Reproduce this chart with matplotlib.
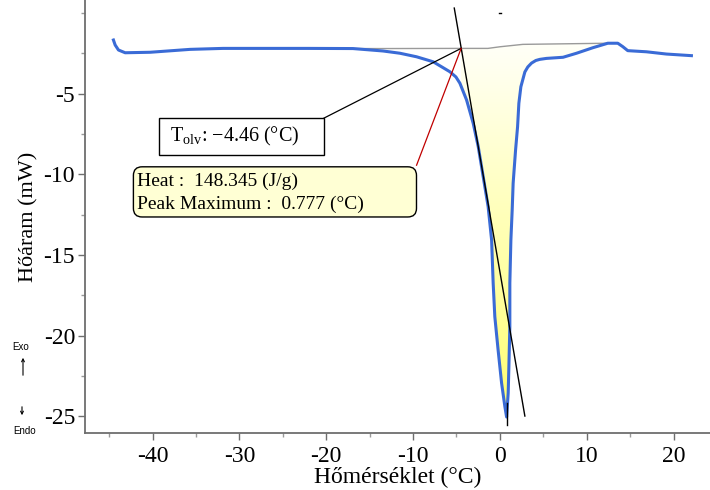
import matplotlib
matplotlib.use("Agg")
import matplotlib.pyplot as plt
import numpy as np
from matplotlib.colors import LinearSegmentedColormap
from matplotlib.patches import Rectangle, FancyBboxPatch, Polygon
from matplotlib.ticker import MultipleLocator

plt.rcParams['font.family'] = ['Liberation Serif', 'DejaVu Serif']
plt.rcParams['mathtext.fontset'] = 'custom'
plt.rcParams['mathtext.rm'] = 'Liberation Serif'
plt.rcParams['axes.unicode_minus'] = False

# DSC curve (temperature in C, heat flow in mW)
curve_x = [-44.50, -44.30, -43.92, -43.15, -40.28, -35.67, -31.88, -22.21, -16.92, -13.46,
           -11.51, -9.59, -7.68, -6.71, -5.75, -5.06, -4.60, -3.83, -3.07, -2.49, -1.92,
           -1.35, -0.95, -0.77, -0.58, -0.20, 0.20, 0.58, 0.777, 0.96, 1.04, 1.15, 1.15,
           1.27, 1.42, 1.53, 1.81, 2.04, 2.19, 2.42, 2.88, 3.22, 3.65, 4.14, 4.60, 5.37,
           7.28, 8.83, 10.70, 12.43, 13.58, 14.15, 14.73, 16.88, 19.18, 22.06]
curve_y = [-1.68, -1.99, -2.30, -2.47, -2.44, -2.26, -2.20, -2.20, -2.21, -2.36,
           -2.50, -2.72, -3.03, -3.34, -3.65, -3.97, -4.36, -5.40, -6.84, -8.29, -10.15,
           -12.01, -14.08, -16.75, -18.83, -20.90, -22.95, -24.41, -25.05, -23.56, -21.93, -19.45, -16.75,
           -14.08, -12.22, -10.56, -8.50, -7.06, -5.60, -4.58, -3.66, -3.35, -3.11, -2.95, -2.88, -2.82,
           -2.75, -2.50, -2.16, -1.88, -1.88, -2.09, -2.34, -2.41, -2.55, -2.65]

# integration baseline
base_x = [-16.92, -13.46, -4.46, -1.38, 0.0, 2.65, 12.43]
base_y = [-2.21, -2.21, -2.20, -2.20, -2.10, -1.95, -1.88]

# onset tangent
tan_x = [-5.25, 2.88]
tan_y = [0.30, -24.99]

onset = -4.46
peak_t = 0.777
heat = 148.345
fill_end = 12.43

cx = np.array(curve_x)
cy = np.array(curve_y)
bx = np.array(base_x)
by = np.array(base_y)

fig = plt.figure(figsize=(7.1, 4.9), dpi=100)
ax = fig.add_axes([0.1194, 0.1157, 0.8806, 0.8843])

# yellow peak area with a vertical gradient
mask = (cx > onset) & (cx < fill_end)
keep = (bx >= onset) & (bx <= fill_end)
base_on = np.interp(onset, bx, by)
verts = ([(onset, base_on), (onset, np.interp(onset, cx[:25], cy[:25]))]
         + list(zip(cx[mask], cy[mask]))
         + list(zip(bx[keep][::-1], by[keep][::-1])))
poly = Polygon(verts, closed=True, facecolor='none', edgecolor='none')
ax.add_patch(poly)
cmap = LinearSegmentedColormap.from_list('yel', ['#ffff70', '#fffff8'])
grad = np.linspace(0, 1, 256).reshape(-1, 1)
im = ax.imshow(grad, extent=[onset, fill_end, -25.2, -1.9], origin='lower',
               cmap=cmap, aspect='auto', zorder=1, interpolation='bilinear')
im.set_clip_path(poly)

ax.plot(bx, by, color='#9a9a9a', lw=1.0, zorder=2)
ax.plot(cx, cy, color='#3a6bd6', lw=2.2, zorder=3, solid_joinstyle='round')
ax.plot(tan_x, tan_y, color='black', lw=1.0, zorder=4)
ax.plot([peak_t, peak_t], [-24.2, -25.55], color='black', lw=1.0, zorder=4)
ax.plot([-0.15, 0.1], [0.0, 0.0], color='black', lw=1.0)

# onset label box
ax.add_patch(Rectangle((-39.24, -8.81), 18.99, 2.29, facecolor='white',
                       edgecolor='black', lw=1.0, zorder=5))
ax.plot([-20.25, onset], [-6.52, base_on], color='black', lw=0.9, zorder=4)
ax.text(-37.97, -7.63, r"T$_{\mathrm{olv}}$: −4.46 (°C)", fontsize=14.5,
        va='center', ha='left', zorder=6)

# heat box
ax.add_patch(FancyBboxPatch((-42.2, -12.65), 32.6, 3.11,
                            boxstyle="round,pad=0,rounding_size=1.0",
                            mutation_aspect=0.539, facecolor='#ffffd4',
                            edgecolor='black', lw=1.0, zorder=5))
ax.plot([-9.59, onset], [-9.44, base_on], color='#c00000', lw=0.9, zorder=4)
ax.text(-41.77, -10.42, f"Heat :  {heat} (J/g)", fontsize=14, va='center', ha='left', zorder=6)
ax.text(-41.77, -11.85, f"Peak Maximum :  {peak_t} (°C)", fontsize=14, va='center',
        ha='left', zorder=6)

ax.set_xlim(-47.8, 24.2)
ax.set_ylim(-26.06, 0.8)
ax.xaxis.set_major_locator(MultipleLocator(10))
ax.xaxis.set_minor_locator(MultipleLocator(5))
ax.yaxis.set_minor_locator(MultipleLocator(2.5))
ax.set_yticks([-5, -10, -15, -20, -25])

for s in ['top', 'right']:
    ax.spines[s].set_visible(False)
for s in ['left', 'bottom']:
    ax.spines[s].set_color('#6e6e6e')
    ax.spines[s].set_linewidth(1.3)
ax.tick_params(which='major', direction='out', length=5, width=1, color='#6e6e6e',
               labelsize=17, pad=2)
ax.tick_params(axis='x', which='major', pad=4)
ax.tick_params(which='minor', direction='out', length=3, width=1, color='#9a9a9a')

ax.set_xlabel("Hőmérséklet (°C)", fontsize=17, labelpad=0)
ax.set_ylabel("Hőáram (mW)", fontsize=16, labelpad=4)

# Exo / Endo markers
fig.text(21 / 710, 1 - 347.5 / 490, "Exo", family='Liberation Sans', fontsize=7,
         ha='center', va='center')
fig.text(24.5 / 710, 1 - 430.5 / 490, "Endo", family='Liberation Sans', fontsize=7,
         ha='center', va='center')
ax.annotate("", xy=(23, 490 - 355), xytext=(23, 490 - 378), xycoords='figure pixels',
            textcoords='figure pixels', annotation_clip=False,
            arrowprops=dict(arrowstyle='->', lw=0.8, color='black', mutation_scale=5))
ax.annotate("", xy=(22, 490 - 418), xytext=(22, 490 - 404), xycoords='figure pixels',
            textcoords='figure pixels', annotation_clip=False,
            arrowprops=dict(arrowstyle='->', lw=0.8, color='black', mutation_scale=5))

fig.savefig("out.png", dpi=100)
